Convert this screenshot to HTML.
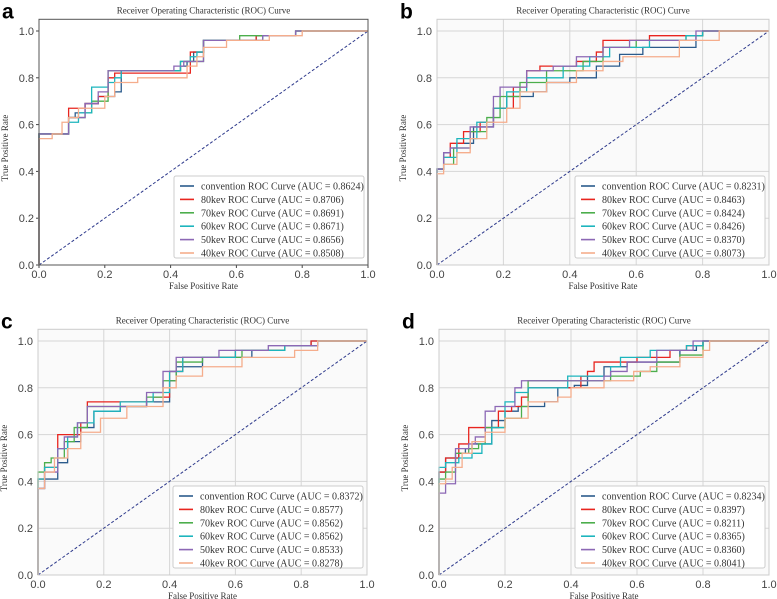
<!DOCTYPE html>
<html><head><meta charset="utf-8">
<style>
body{margin:0;background:#fff;}
svg{display:block;font-family:"Liberation Sans",sans-serif;}
.ttl{font-family:"Liberation Serif",serif;font-size:9px;fill:#333;}
.tick{font-size:11px;fill:#444;}
.lbl{font-family:"Liberation Serif",serif;font-size:9px;fill:#333;}
.leg{font-family:"Liberation Serif",serif;font-size:10px;fill:#333;}
.pl{font-size:21px;font-weight:bold;fill:#000;}
</style></head>
<body>
<svg id="fig" width="777" height="599" viewBox="0 0 777 599"></svg>
<script>
const seriesNames = ["convention","80kev","70kev","60kev","50kev","40kev"];
const aucA = ["0.8624","0.8706","0.8691","0.8671","0.8656","0.8508"];
const aucB = ["0.8231","0.8463","0.8424","0.8426","0.8370","0.8073"];
const aucC = ["0.8372","0.8577","0.8562","0.8562","0.8533","0.8278"];
const aucD = ["0.8234","0.8397","0.8211","0.8365","0.8360","0.8041"];
const ticks = [0,0.2,0.4,0.6,0.8,1.0];
const tickLabels = ["0.0","0.2","0.4","0.6","0.8","1.0"];
// step curves: fpr breakpoints and tpr levels
const aFpr = [
 [0,.09,.11,.14,.18,.23,.25,.25,.43,.45,.47,.5,.66,.78],
 [0,.09,.14,.18,.21,.23,.46,.5,.66,.78],
 [0,.09,.14,.16,.21,.41,.43,.5,.61,.78],
 [0,.09,.12,.16,.21,.23,.25,.43,.46,.48,.5,.68,.78],
 [0,.09,.14,.18,.21,.21,.41,.44,.5,.68,.78],
 [0,.04,.07,.09,.12,.2,.23,.3,.45,.48,.5,.57,.7,.8]];
const aTpr = [
 [.56,.63,.65,.69,.72,.74,.76,.83,.85,.87,.91,.96,.98,1],
 [.56,.67,.69,.72,.8,.82,.91,.96,.98,1],
 [.56,.63,.65,.70,.83,.83,.87,.96,.98,1],
 [.56,.61,.65,.76,.78,.80,.83,.87,.89,.91,.96,.98,1],
 [.56,.63,.69,.74,.76,.83,.85,.87,.96,.98,1],
 [.54,.56,.61,.63,.67,.72,.78,.80,.85,.89,.93,.96,.98,1]];
const bFpr = [
 [0,.02,.04,.06,.11,.17,.21,.29,.33,.4,.48,.55,.62,.78,.8],
 [0,.02,.04,.08,.13,.17,.23,.27,.31,.42,.48,.5,.64,.8],
 [0,.02,.05,.1,.15,.19,.25,.33,.44,.5,.6,.75,.8],
 [0,.02,.06,.12,.17,.21,.27,.38,.46,.52,.64,.75,.8],
 [0,.02,.04,.1,.17,.19,.27,.35,.42,.5,.58,.78],
 [0,.02,.06,.1,.15,.21,.25,.33,.42,.5,.56,.73,.85]];
const bTpr = [
 [.41,.48,.5,.52,.59,.67,.72,.74,.78,.8,.85,.9,.93,.98,1],
 [.41,.46,.52,.57,.61,.67,.76,.83,.85,.87,.91,.96,.98,1],
 [.41,.43,.5,.57,.63,.72,.78,.83,.87,.93,.96,.98,1],
 [.41,.46,.54,.61,.67,.74,.8,.85,.89,.93,.96,.98,1],
 [.41,.48,.5,.59,.72,.76,.83,.85,.89,.93,.96,1],
 [.39,.43,.48,.54,.61,.67,.74,.78,.83,.87,.89,.96,1]];
const cFpr = [
 [0,.02,.06,.09,.13,.17,.25,.33,.38,.4,.42,.5,.65,.75,.83],
 [0,.02,.06,.09,.13,.15,.25,.35,.4,.44,.6,.75,.83],
 [0,.02,.04,.08,.11,.15,.23,.33,.38,.42,.5,.62,.75,.85],
 [0,.02,.06,.09,.12,.17,.25,.35,.4,.44,.6,.75,.85],
 [0,.02,.06,.08,.12,.15,.25,.33,.38,.42,.55,.7,.85],
 [0,.02,.05,.09,.13,.19,.27,.38,.42,.5,.62,.78,.85]];
const cTpr = [
 [.37,.41,.48,.57,.63,.7,.72,.74,.74,.83,.89,.93,.96,.98,1],
 [.41,.46,.6,.6,.65,.74,.74,.76,.87,.93,.96,.98,1],
 [.44,.48,.5,.57,.63,.72,.72,.76,.83,.91,.93,.96,.98,1],
 [.41,.46,.54,.59,.65,.7,.74,.78,.87,.93,.96,.98,1],
 [.37,.44,.54,.59,.65,.72,.72,.78,.87,.93,.96,.98,1],
 [.37,.44,.5,.54,.61,.67,.72,.8,.85,.89,.93,.96,1]];
const dFpr = [
 [0,.02,.06,.08,.1,.16,.2,.24,.32,.36,.41,.45,.5,.57,.73,.78,.8],
 [0,.02,.06,.09,.14,.18,.22,.25,.27,.43,.45,.47,.6,.7,.75,.8],
 [0,.02,.05,.09,.12,.14,.2,.25,.27,.5,.52,.61,.66,.73,.8],
 [0,.02,.06,.1,.13,.16,.2,.23,.27,.39,.52,.55,.64,.75,.8],
 [0,.02,.05,.09,.11,.14,.17,.23,.25,.45,.5,.52,.57,.66,.77],
 [0,.02,.04,.07,.1,.14,.2,.27,.36,.4,.5,.59,.64,.73,.8,.82]];
const dTpr = [
 [.44,.5,.52,.54,.56,.66,.7,.72,.74,.8,.81,.85,.89,.91,.96,.98,1],
 [.44,.5,.56,.63,.63,.7,.72,.76,.8,.85,.87,.91,.93,.96,.98,1],
 [.41,.44,.52,.54,.56,.63,.67,.72,.83,.83,.85,.87,.91,.94,1],
 [.46,.48,.5,.52,.56,.63,.74,.78,.8,.85,.89,.93,.96,.98,1],
 [.35,.39,.54,.56,.59,.7,.72,.8,.83,.83,.85,.87,.91,.96,1],
 [.39,.41,.46,.52,.57,.61,.67,.74,.76,.8,.83,.87,.89,.93,.96,1]];
const colors = ["#2b5b8c","#e8251f","#4cae4c","#1db5bd","#8c68b5","#f5ad8c"];

const NS="http://www.w3.org/2000/svg";
const svg=document.getElementById('fig');
function mk(tag,attrs,parent,text){const e=document.createElementNS(NS,tag);for(const k in attrs)e.setAttribute(k,attrs[k]);if(text!==undefined)e.textContent=text;(parent||svg).appendChild(e);return e;}

const panels=[
 {id:"a",x0:39,x1:368,y0:265,grid:false,fpr:aFpr,tpr:aTpr,auc:aAucSafe()},
 {id:"b",x0:437,x1:769,y0:265,grid:true,fpr:bFpr,tpr:bTpr,auc:aucB},
 {id:"c",x0:38,x1:367,y0:575,grid:true,fpr:cFpr,tpr:cTpr,auc:aucC},
 {id:"d",x0:439,x1:769,y0:575,grid:true,fpr:dFpr,tpr:dTpr,auc:aucD}];
function aAucSafe(){return aucA;}

panels.forEach(p=>{
 const H=234;
 const sx=v=>p.x0+v*(p.x1-p.x0);
 const sy=v=>p.y0-v*H;
 const top=sy(1.05);
 const g=mk('g',{});
 
 
 const bg=mk('rect',{x:p.x0,y:top,width:p.x1-p.x0,height:p.y0-top,fill:p.grid?"#fafafa":"#fff"},g);
 
 
 ticks.forEach((t,i)=>{
  if(p.grid){
   mk('line',{x1:sx(t),x2:sx(t),y1:top,y2:p.y0,stroke:"#d6d6d6","stroke-width":1},g);
   mk('line',{x1:p.x0,x2:p.x1,y1:sy(t),y2:sy(t),stroke:"#d6d6d6","stroke-width":1},g);
  } else {
   mk('line',{x1:sx(t),x2:sx(t),y1:p.y0,y2:p.y0+3,stroke:"#444"},g);
   mk('line',{x1:p.x0-3,x2:p.x0,y1:sy(t),y2:sy(t),stroke:"#444"},g);
  }
  const xt=mk('text',{x:sx(t),y:p.y0+13,"text-anchor":"middle",class:"tick"},g,tickLabels[i]);
  
  
  const yt=mk('text',{x:p.x0-5,y:sy(t)+4,"text-anchor":"end",class:"tick"},g,tickLabels[i]);
  
  
 });
 const diag=mk('line',{x1:sx(0),y1:sy(0),x2:sx(1),y2:sy(1),stroke:"#2e3a8c","stroke-width":1,"stroke-dasharray":"3,2"},g);
 
 
 p.fpr.forEach((fs,si)=>{
  const ts=p.tpr[si];
  let d="M"+sx(0)+","+sy(0);
  for(let i=0;i<fs.length;i++){d+=" H"+sx(fs[i])+" V"+sy(ts[i]);}
  d+=" H"+sx(1);
  const path=mk('path',{d:d,fill:"none",stroke:colors[si],"stroke-width":1.3},g);
  
  
 });
 mk('rect',{x:p.x0,y:top,width:p.x1-p.x0,height:p.y0-top,fill:"none",stroke:p.grid?"#ccc":"#555","stroke-width":1},g);
 const tt=mk('text',{x:(p.x0+p.x1)/2,y:top-6,"text-anchor":"middle",class:"ttl"},g,"Receiver Operating Characteristic (ROC) Curve");
 
 
 const xl=mk('text',{x:(p.x0+p.x1)/2,y:p.y0+24,"text-anchor":"middle",class:"lbl"},g,"False Positive Rate");
 
 
 const ycx=p.x0-31, ycy=p.y0-H/2;
 const yl=mk('text',{x:ycx,y:ycy,"text-anchor":"middle",class:"lbl",transform:"rotate(-90 "+ycx+" "+ycy+")"},g,"True Positive Rate");
 
 
 const pl=mk('text',{x:p.x0-37,y:top-1,class:"pl"},g,p.id);
 
 
 // legend
 const lw=190, lx=p.x1-lw-4, ly=p.y0-89;
 const lg=mk('g',{},g);
 
 
 mk('rect',{x:lx,y:ly,width:lw,height:82,fill:"#fff",stroke:"#ccc","stroke-width":1,rx:2},lg);
 seriesNames.forEach((n,si)=>{
  const yy=ly+10+si*13.4;
  mk('line',{x1:lx+6,x2:lx+20,y1:yy,y2:yy,stroke:colors[si],"stroke-width":1.6},lg);
  const te=mk('text',{x:lx+27,y:yy+3.5,class:"leg"},lg,n+" ROC Curve (AUC = "+p.auc[si]+")");
  
  
 });
});
</script>
</body></html>
